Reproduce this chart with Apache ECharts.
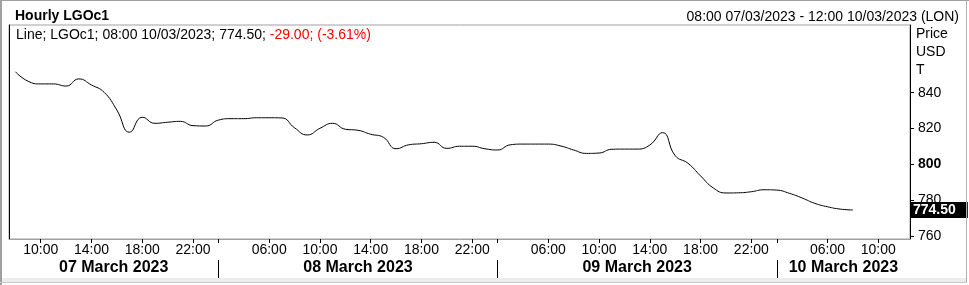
<!DOCTYPE html>
<html>
<head>
<meta charset="utf-8">
<script src="https://cdn.jsdelivr.net/npm/echarts@6/dist/echarts.min.js"></script>
<style>
  html, body { margin: 0; padding: 0; background: #fff; }
  #wrap { position: relative; width: 969px; height: 285px; overflow: hidden; }
  #c { position: absolute; left: 0; top: 0; width: 969px; height: 285px; }
  .f { position: absolute; pointer-events: none; }
</style>
</head>
<body>
<div id="wrap">
  <div id="c"></div>
  <div class="f" style="left:0;top:0;width:2px;height:285px;background:#a0a0a0"></div>
  <div class="f" style="left:0;top:0;width:969px;height:1px;background:#a0a0a0"></div>
  <div class="f" style="left:966px;top:0;width:1px;height:283px;background:#b0b0b0"></div>
  <div class="f" style="left:2px;top:278px;width:964px;height:4px;background:#ececec"></div>
  <div class="f" style="left:0;top:282px;width:967px;height:1px;background:#c8c8c8"></div>
</div>
<script>
// ---- data ----
const dayLabels = ['07 March 2023', '08 March 2023', '09 March 2023', '10 March 2023'];
const hours07 = ['08:00','09:00','10:00','11:00','12:00','13:00','14:00','15:00','16:00','17:00','18:00','19:00','20:00','21:00','22:00','23:00'];
const hours08 = ['02:00','03:00','04:00','05:00','06:00','07:00','08:00','09:00','10:00','11:00','12:00','13:00','14:00','15:00','16:00','17:00','18:00','19:00','20:00','21:00','22:00','23:00'];
const hours09 = ['02:00','03:00','04:00','05:00','06:00','07:00','08:00','09:00','10:00','11:00','12:00','13:00','14:00','15:00','16:00','17:00','18:00','19:00','20:00','21:00','22:00','23:00'];
const hours10 = ['02:00','03:00','04:00','05:00','06:00','07:00','08:00','09:00','10:00','11:00','12:00'];
const values07 = [851.7, 846.4, 844.9, 844.9, 843.7, 847.7, 844.3, 840.2, 830.3, 817.9, 826.3, 822.9, 823.5, 824.0, 821.6, 821.4];
const values08 = [824.7, 825.5, 825.5, 826.0, 826.0, 825.9, 820.4, 816.4, 820.1, 822.9, 819.6, 819.0, 816.8, 815.1, 808.7, 810.9, 811.5, 812.3, 808.9, 810.1, 810.1, 808.7];
const values09 = [808.0, 810.9, 811.3, 811.3, 811.3, 810.2, 808.0, 806.1, 806.3, 808.4, 808.5, 808.5, 810.8, 817.7, 804.8, 800.6, 793.5, 786.8, 784.0, 784.1, 784.7, 785.8];
const values10 = [785.6, 783.8, 781.2, 778.2, 776.3, 775.0, 774.5];
const hourTickLabels = ['06:00', '10:00', '14:00', '18:00', '22:00'];
const priceTicks = [760, 780, 800, 820, 840];
const lastTime = '08:00 10/03/2023';
const changeText = '-29.00; (-3.61%)';
const rangeText = '08:00 07/03/2023 - 12:00 10/03/2023 (LON)';
const yMin = 758.3, yMax = 877.8;

// ---- build ----
const dayHours = [hours07, hours08, hours09, hours10];
const dayValues = [values07, values08, values09, values10];
const categories = [];
const values = [];
const dayStart = [];
dayHours.forEach((hs, d) => {
  dayStart.push(categories.length);
  hs.forEach((h, k) => {
    categories.push(h);
    values.push(k < dayValues[d].length ? dayValues[d][k] : null);
  });
});
const n = categories.length;
const dayEnds = dayStart.slice(1).concat([n - 0.5]);
const dayStartEdge = dayStart.map((s, i) => i === 0 ? -0.5 : s);
const dayCenters = dayStartEdge.map((s, i) => (s + dayEnds[i]) / 2);
const boundaries = dayStart.slice(1);
const lastVal = values07.concat(values08, values09, values10).slice(-1)[0];

const FONT = '"Liberation Sans", Arial, sans-serif';
const chart = echarts.init(document.getElementById('c'), null, { renderer: 'canvas' });

chart.setOption({
  animation: false,
  backgroundColor: 'transparent',
  textStyle: { fontFamily: FONT },
  title: [
    { text: 'Hourly LGOc1', left: 10, top: 4,
      textStyle: { fontSize: 14, fontWeight: 'bold', color: '#000', fontFamily: FONT } },
    { text: rangeText, right: 5, top: 5,
      textStyle: { fontSize: 14, fontWeight: 'normal', color: '#000', fontFamily: FONT } },
    { text: 'Line; LGOc1; ' + lastTime + '; ' + lastVal.toFixed(2) + '; {r|' + changeText + '}',
      left: 16, top: 28, padding: 0,
      textStyle: { fontSize: 14, fontWeight: 'normal', color: '#000', fontFamily: FONT,
        rich: { r: { color: '#ff0000', fontSize: 14, fontFamily: FONT } } } }
  ],
  grid: {
    left: 9, right: 59, top: 25, bottom: 46,
    show: true, borderColor: '#a0a0a0', borderWidth: 1, backgroundColor: 'transparent'
  },
  xAxis: [
    {
      type: 'category', data: categories, boundaryGap: true, position: 'bottom',
      axisLine: { show: true, onZero: false, lineStyle: { color: '#a0a0a0', width: 1 } },
      axisTick: {
        show: true, alignWithLabel: true, length: 4,
        lineStyle: { color: '#000' },
        interval: (i, v) => hourTickLabels.indexOf(v) >= 0 || boundaries.indexOf(i) >= 0
      },
      axisLabel: {
        show: true, margin: 4, fontSize: 14, color: '#000', fontFamily: FONT,
        interval: (i, v) => hourTickLabels.indexOf(v) >= 0
      },
      splitLine: { show: false }
    },
    {
      type: 'value', min: -0.5, max: n - 0.5, position: 'bottom', offset: 21,
      axisLine: { show: false, onZero: false },
      splitLine: { show: false },
      axisTick: { show: true, length: 18, customValues: boundaries, lineStyle: { color: '#000' } },
      axisLabel: {
        show: true, margin: 0, fontSize: 16, fontWeight: 'bold', color: '#000', fontFamily: FONT,
        customValues: dayCenters,
        formatter: (v) => {
          const i = dayCenters.findIndex(c => Math.abs(c - v) < 1e-6);
          return i >= 0 ? dayLabels[i] : '';
        }
      }
    }
  ],
  yAxis: [
    {
      type: 'value', position: 'right', min: yMin, max: yMax,
      name: 'Price\nUSD\nT', nameLocation: 'end', nameGap: 0,
      nameTextStyle: { align: 'left', verticalAlign: 'top', fontSize: 14, lineHeight: 18,
        color: '#000', fontFamily: FONT, padding: [0, 0, 0, 6] },
      axisLine: { show: true, onZero: false, lineStyle: { color: '#000', width: 1 } },
      axisTick: { show: true, length: 4, customValues: priceTicks, lineStyle: { color: '#000' } },
      axisLabel: {
        show: true, margin: 8, fontSize: 14, color: '#000', fontFamily: FONT,
        customValues: priceTicks,
        formatter: (v) => v === 800 ? '{b|800}' : String(v),
        rich: { b: { fontWeight: 'bold', fontSize: 14, color: '#000', fontFamily: FONT } }
      },
      splitLine: { show: false }
    },
    {
      type: 'value', position: 'left', min: yMin, max: yMax,
      axisLine: { show: true, onZero: false, lineStyle: { color: '#000', width: 1 } },
      axisTick: { show: false }, axisLabel: { show: false }, splitLine: { show: false }
    }
  ],
  series: [
    {
      type: 'line', xAxisIndex: 0, yAxisIndex: 0, data: values,
      smooth: 0.5, showSymbol: false, symbol: 'none', connectNulls: false,
      lineStyle: { color: '#000', width: 1 },
      markLine: {
        silent: true, symbol: ['none', 'none'], animation: false,
        lineStyle: { color: 'rgba(0,0,0,0)', width: 0, type: 'solid' },
        data: [{ yAxis: lastVal }],
        label: {
          show: true, position: 'end', distance: 1,
          formatter: (p) => Number(p.value).toFixed(2),
          color: '#fff', fontWeight: 'bold', fontSize: 14, fontFamily: FONT,
          backgroundColor: '#000', padding: [1, 12, 1, 2]
        }
      }
    }
  ]
});
</script>
</body>
</html>
